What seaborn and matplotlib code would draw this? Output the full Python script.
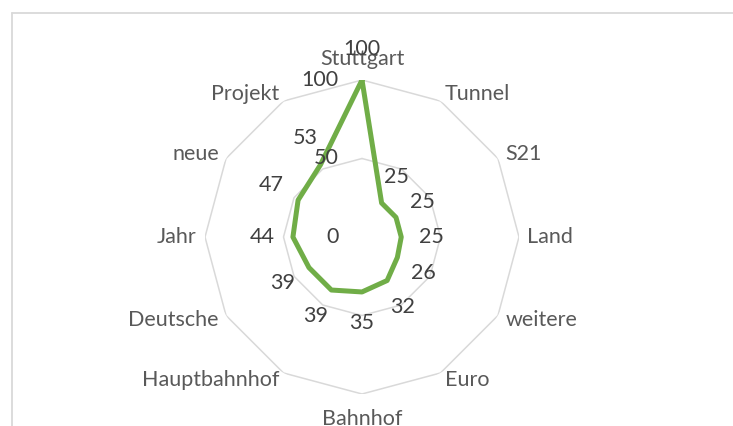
import numpy as np
import pandas as pd
import matplotlib.pyplot as plt
from matplotlib.lines import Line2D
import seaborn as sns

# data (clockwise from top)
categories = ["Stuttgart", "Tunnel", "S21", "Land", "weitere", "Euro",
              "Bahnhof", "Hauptbahnhof", "Deutsche", "Jahr", "neue", "Projekt"]
values = [100, 25, 25, 25, 26, 32, 35, 39, 39, 44, 47, 53]
axis_ticks = [0, 50, 100]

sns.set_theme(style="white")
plt.rcParams['font.family'] = ['Lato', 'DejaVu Sans']

W, H = 733, 426
fig = plt.figure(figsize=(W / 100, H / 100), dpi=100)

# chart frame (left and top edges visible)
fig.add_artist(Line2D([12 / W, 12 / W], [0, 1 - 13 / H], transform=fig.transFigure,
                      color='#d9d9d9', lw=1.3))
fig.add_artist(Line2D([12 / W, 1], [1 - 13 / H, 1 - 13 / H], transform=fig.transFigure,
                      color='#d9d9d9', lw=1.3))

cx, cy, rad = 362 / W, 1 - 237 / H, 157
ax = fig.add_axes([cx - rad / W, cy - rad / H, 2 * rad / W, 2 * rad / H], projection='polar')
ax.set_theta_zero_location('N')
ax.set_theta_direction(-1)
ax.set_ylim(0, 100)
ax.grid(False)
ax.spines['polar'].set_visible(False)
ax.set_xticks([])
ax.set_yticks([])
ax.patch.set_alpha(0)

n = len(categories)
theta = np.arange(n) * 2 * np.pi / n
theta_closed = np.append(theta, 2 * np.pi)

# polygon gridlines
for t in axis_ticks[1:]:
    ax.plot(theta_closed, [t] * (n + 1), color='#d9d9d9', lw=1.1, zorder=1)

df = pd.DataFrame({'theta': theta_closed, 'value': values + [values[0]]})
sns.lineplot(data=df, x='theta', y='value', sort=False, estimator=None,
             color='#70ad47', lw=3.6, ax=ax, zorder=3)
ax.set_xlabel('')
ax.set_ylabel('')
ax.set_xlim(0, 2 * np.pi)

fs = 15.5

# data labels
for th, v in zip(theta, values):
    off = 22
    ax.annotate(str(v), (th, v), xytext=(off * np.sin(th), off * np.cos(th)),
                textcoords='offset points', ha='center', va='center',
                fontsize=fs, color='#404040', zorder=4)

# axis labels
for t in axis_ticks:
    ax.annotate(str(t), (0, t), xytext=(-17, 0), textcoords='offset points',
                ha='right', va='center', fontsize=fs, color='#404040')

# category labels
for th, lab in zip(theta, categories):
    s, c = np.sin(th), np.cos(th)
    ha = 'left' if s > 0.01 else ('right' if s < -0.01 else 'center')
    if c > 0.99:
        va, off = 'bottom', 8
    elif c < -0.99:
        va, off = 'top', 11
    else:
        va, off = 'center', 6
    ax.annotate(lab, (th, 100), xytext=(off * s, off * c), textcoords='offset points',
                ha=ha, va=va, fontsize=fs, color='#595959')

fig.savefig('out.png', dpi=100)
